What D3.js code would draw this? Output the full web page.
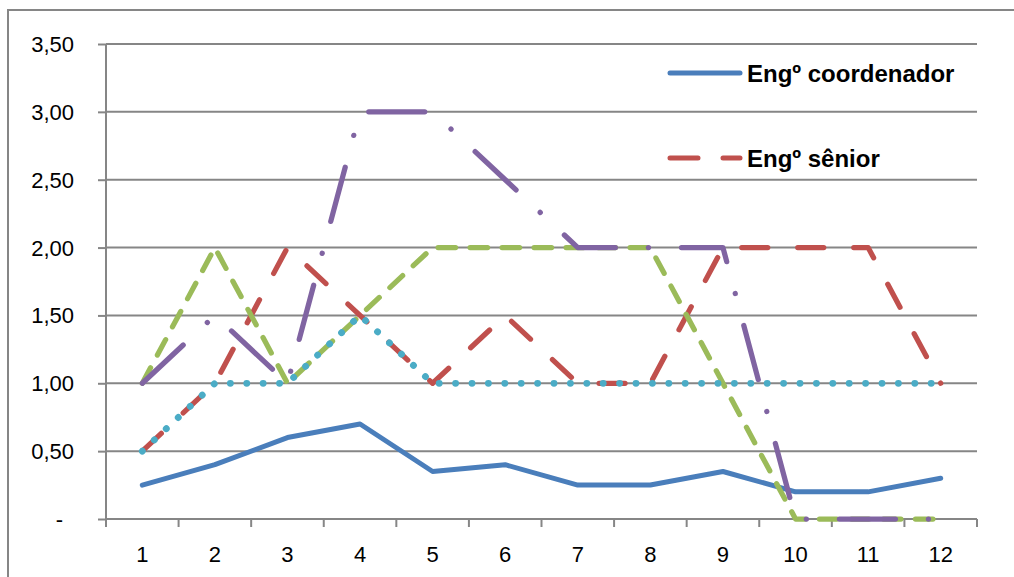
<!DOCTYPE html>
<html><head><meta charset="utf-8">
<script src="https://cdn.jsdelivr.net/npm/d3@7"></script>
<style>body{margin:0;background:#fff}svg{display:block}text{font-family:"Liberation Sans",Arial,sans-serif}</style>
</head><body><svg id="c" width="1014" height="577"></svg>
<script>
const categories = ["1","2","3","4","5","6","7","8","9","10","11","12"];
const coordenador = [0.25,0.40,0.60,0.70,0.35,0.40,0.25,0.25,0.35,0.20,0.20,0.30];
const senior      = [0.50,1.00,2.00,1.50,1.00,1.50,1.00,1.00,2.00,2.00,2.00,1.00];
const seriesGreen = [1.00,2.00,1.00,1.50,2.00,2.00,2.00,2.00,1.00,0.00,0.00,0.00];
const seriesPurple= [1.00,1.50,1.00,3.00,3.00,2.50,2.00,2.00,2.00,0.00,0.00,0.00];
const seriesCyan  = [0.50,1.00,1.00,1.50,1.00,1.00,1.00,1.00,1.00,1.00,1.00,1.00];
const yTicks = [0,0.5,1,1.5,2,2.5,3,3.5];
const legendNames = ["Engº coordenador","Engº sênior"];

const svg = d3.select("#c");
const gray = "#868686";
const L=106,R=977,T=44,B=519;
const x = d3.scaleBand().domain(categories).range([L,R]);
const y = d3.scaleLinear().domain([0,3.5]).range([B,T]);
const cx = c => x(c)+x.bandwidth()/2;

// chart border
svg.append("rect").attr("x",8).attr("y",10).attr("width",1030).attr("height",600)
  .attr("fill","none").attr("stroke",gray).attr("stroke-width",2);

// gridlines
svg.append("g").selectAll("line").data(yTicks.filter(d=>d>0)).join("line")
  .attr("x1",L).attr("x2",R).attr("y1",d=>y(d)).attr("y2",d=>y(d))
  .attr("stroke",gray).attr("stroke-width",2);

// y axis
const yAxis = svg.append("g").attr("transform",`translate(${L},0)`)
  .call(d3.axisLeft(y).tickValues(yTicks).tickSize(8).tickPadding(0).tickFormat(()=>""));
yAxis.select(".domain").remove();
yAxis.selectAll("line").attr("stroke",gray).attr("stroke-width",2);
svg.append("line").attr("x1",L).attr("x2",L).attr("y1",T).attr("y2",B+7).attr("stroke",gray).attr("stroke-width",2);
svg.append("g").selectAll("text").data(yTicks).join("text")
  .attr("x",d=>d===0?63:74).attr("y",d=>y(d)+8).attr("text-anchor","end")
  .attr("font-size",22).attr("fill","#000")
  .text(d=>d===0?"-":d3.format(".2f")(d).replace(".",","));

// x axis
svg.append("line").attr("x1",L).attr("x2",R).attr("y1",B).attr("y2",B).attr("stroke",gray).attr("stroke-width",2);
const edges = categories.map(c=>x(c)).concat([R]);
svg.append("g").selectAll("line").data(edges).join("line")
  .attr("x1",d=>d).attr("x2",d=>d).attr("y1",B).attr("y2",B+8).attr("stroke",gray).attr("stroke-width",2);
svg.append("g").selectAll("text").data(categories).join("text")
  .attr("x",d=>cx(d)).attr("y",562).attr("text-anchor","middle")
  .attr("font-size",22).attr("fill","#000").text(d=>d);

const line = d3.line().x((d,i)=>cx(categories[i])).y(d=>y(d));
const series = [
  {v:coordenador, color:"#4A7EBB", dash:null, w:5},
  {v:senior, color:"#C0504D", dash:"26,30", w:5.25},
  {v:seriesGreen, color:"#9BBB59", dash:"17.5,14.5", w:5.25},
  {v:seriesPurple, color:"#8064A2", dash:"56,33,0.1,33", w:5.25},
  {v:seriesCyan, color:"#4BACC6", dash:"0.1,16.3", w:6.8}
];
series.forEach(s=>{
  svg.append("path").datum(s.v).attr("d",line).attr("fill","none")
    .attr("stroke",s.color).attr("stroke-width",s.w)
    .attr("stroke-linecap","round").attr("stroke-linejoin","round")
    .attr("stroke-dasharray",s.dash);
});

// legend
const lg = [{y:73, ty:82, s:series[0]},{y:158, ty:167, s:series[1]}];
lg.forEach((d,i)=>{
  svg.append("line").attr("x1",670).attr("x2",740).attr("y1",d.y).attr("y2",d.y)
    .attr("stroke",d.s.color).attr("stroke-width",5).attr("stroke-linecap","round")
    .attr("stroke-dasharray",d.s.dash?"28,25":null);
  svg.append("text").attr("x",747).attr("y",d.ty).attr("font-size",24).attr("font-weight","bold")
    .attr("fill","#000").text(legendNames[i]);
});
</script></body></html>
